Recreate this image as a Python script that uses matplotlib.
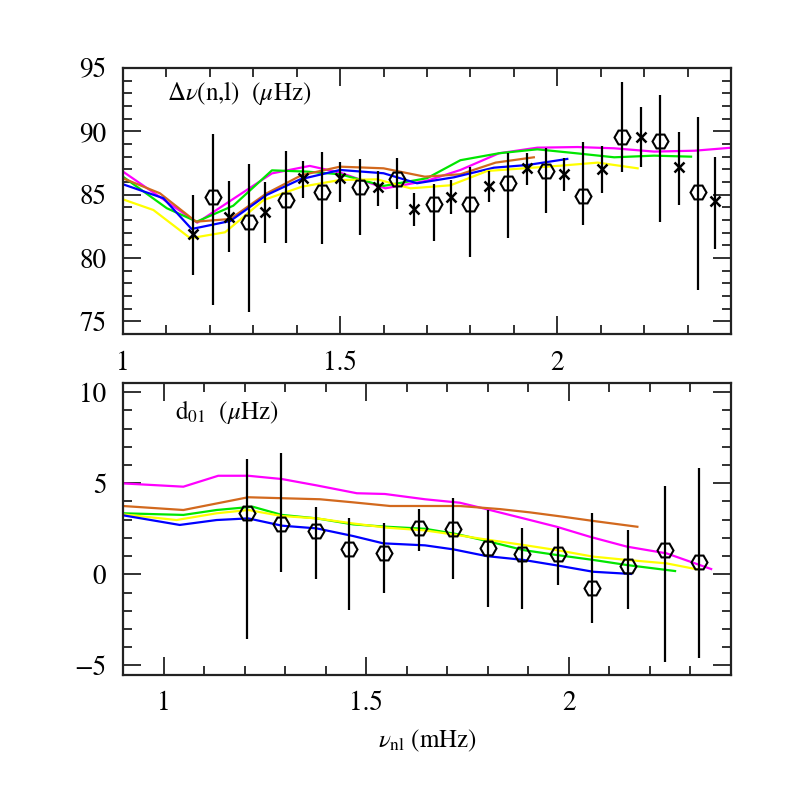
import matplotlib
matplotlib.use("Agg")
import matplotlib.pyplot as plt
from matplotlib.ticker import MultipleLocator

plt.rcParams['font.family'] = ['STIXGeneral', 'DejaVu Serif']
plt.rcParams['mathtext.fontset'] = 'stix'

# ---------------- top panel data: large separations ----------------
top_circ_x = [1.207, 1.291, 1.375, 1.458, 1.545, 1.631, 1.716, 1.800, 1.887, 1.974, 2.060, 2.148, 2.237, 2.323]
top_circ_y = [84.8, 82.87, 84.58, 85.19, 85.58, 86.2, 84.27, 84.24, 85.95, 86.87, 84.9, 89.58, 89.24, 85.19]
top_circ_lo = [8.5, 7.17, 3.37, 4.09, 3.78, 2.35, 2.9, 4.18, 4.35, 3.29, 2.3, 2.76, 6.37, 7.69]
top_circ_hi = [5.0, 4.53, 3.87, 3.21, 2.22, 1.7, 1.57, 2.92, 2.32, 1.83, 4.28, 4.34, 3.63, 5.91]

top_cross_x = [1.162, 1.245, 1.328, 1.414, 1.500, 1.587, 1.670, 1.756, 1.843, 1.930, 2.016, 2.103, 2.193, 2.280, 2.364]
top_cross_y = [81.87, 83.26, 83.66, 86.29, 86.29, 85.58, 83.85, 84.79, 85.71, 87.13, 86.61, 87.03, 89.58, 87.21, 84.53]
top_cross_lo = [3.21, 2.76, 2.5, 1.57, 1.89, 1.48, 1.35, 1.34, 1.31, 1.36, 1.29, 1.87, 2.38, 3.02, 3.83]
top_cross_hi = [3.11, 2.82, 2.37, 1.37, 1.31, 1.32, 1.25, 1.37, 1.16, 1.14, 1.26, 1.81, 2.37, 2.71, 3.42]

top_mag_x = [1.0, 1.171, 1.343, 1.430, 1.500, 1.604, 1.700, 1.777, 1.866, 1.954, 2.047, 2.131, 2.223, 2.316, 2.402]
top_mag_y = [86.82, 82.79, 86.68, 87.27, 86.74, 85.5, 86.1, 86.95, 88.27, 88.71, 88.76, 88.66, 88.4, 88.47, 88.71]

top_grn_x = [1.0, 1.101, 1.170, 1.254, 1.343, 1.423, 1.500, 1.600, 1.700, 1.777, 1.866, 1.954, 2.043, 2.131, 2.223, 2.308]
top_grn_y = [86.42, 83.93, 82.87, 84.13, 86.92, 86.82, 86.61, 85.69, 86.3, 87.72, 88.27, 88.58, 88.27, 87.95, 88.08, 88.0]

top_brn_x = [1.0, 1.085, 1.168, 1.247, 1.331, 1.412, 1.500, 1.600, 1.695, 1.777, 1.858, 1.946]
top_brn_y = [86.29, 85.11, 82.87, 83.08, 85.11, 86.55, 87.21, 87.08, 86.42, 86.61, 87.53, 87.95]

top_blu_x = [1.0, 1.093, 1.158, 1.247, 1.331, 1.408, 1.500, 1.600, 1.677, 1.762, 1.854, 1.931, 2.023]
top_blu_y = [85.82, 84.72, 82.29, 82.92, 84.98, 86.21, 86.95, 86.69, 85.9, 86.37, 87.13, 87.34, 87.82]

top_yel_x = [1.0, 1.070, 1.155, 1.235, 1.324, 1.412, 1.500, 1.585, 1.662, 1.754, 1.839, 1.923, 2.008, 2.093, 2.185]
top_yel_y = [84.63, 83.79, 81.56, 82.03, 84.58, 85.63, 86.16, 86.21, 85.5, 85.74, 86.87, 87.08, 87.29, 87.53, 87.08]

# ---------------- bottom panel data: d01 ----------------
bot_circ_x = [1.207, 1.290, 1.375, 1.458, 1.545, 1.631, 1.715, 1.800, 1.885, 1.972, 2.056, 2.147, 2.237, 2.322]
bot_circ_y = [3.38, 2.76, 2.39, 1.39, 1.15, 2.52, 2.49, 1.46, 1.10, 1.12, -0.77, 0.47, 1.33, 0.66]
bot_circ_lo = [6.95, 2.65, 2.66, 3.35, 2.19, 1.24, 2.76, 3.24, 3.0, 1.71, 1.92, 2.39, 6.13, 5.27]
bot_circ_hi = [2.95, 3.88, 1.32, 1.71, 1.68, 1.06, 1.71, 2.07, 1.42, 1.44, 4.15, 1.96, 3.53, 5.16]

bot_mag_x = [0.9, 1.049, 1.135, 1.209, 1.292, 1.378, 1.477, 1.546, 1.645, 1.731, 1.789, 1.888, 1.970, 2.052, 2.143, 2.241, 2.351]
bot_mag_y = [4.99, 4.81, 5.41, 5.41, 5.23, 4.88, 4.45, 4.41, 4.12, 3.93, 3.62, 3.07, 2.61, 2.06, 1.52, 1.15, 0.29]

bot_brn_x = [0.9, 1.049, 1.209, 1.304, 1.386, 1.468, 1.559, 1.645, 1.731, 1.830, 1.904, 1.986, 2.060, 2.169]
bot_brn_y = [3.75, 3.53, 4.23, 4.17, 4.12, 3.95, 3.75, 3.75, 3.75, 3.58, 3.40, 3.16, 2.93, 2.61]

bot_grn_x = [0.9, 1.049, 1.131, 1.220, 1.292, 1.378, 1.468, 1.551, 1.645, 1.723, 1.805, 1.888, 1.970, 2.060, 2.143, 2.262]
bot_grn_y = [3.35, 3.26, 3.53, 3.71, 3.26, 3.07, 2.74, 2.61, 2.50, 2.21, 1.79, 1.33, 1.06, 0.79, 0.51, 0.18]

bot_yel_x = [0.9, 1.032, 1.131, 1.209, 1.292, 1.378, 1.468, 1.551, 1.645, 1.723, 1.805, 1.888, 1.970, 2.060, 2.143, 2.241, 2.315]
bot_yel_y = [3.29, 2.98, 3.35, 3.53, 3.20, 3.07, 2.79, 2.56, 2.41, 2.16, 1.88, 1.61, 1.33, 0.97, 0.79, 0.60, 0.28]

bot_blu_x = [0.9, 1.040, 1.131, 1.209, 1.292, 1.378, 1.468, 1.542, 1.645, 1.715, 1.797, 1.888, 1.978, 2.060, 2.153]
bot_blu_y = [3.24, 2.71, 2.98, 3.07, 2.67, 2.52, 2.10, 1.70, 1.59, 1.37, 1.00, 0.79, 0.46, 0.14, 0.02]

MAG = '#ff00ff'
GRN = '#00e600'
BRN = '#d2691e'
BLU = '#0000ff'
YEL = '#ffff00'

fig = plt.figure(figsize=(7.97, 7.97), dpi=100)
ax1 = fig.add_axes([0.1543, 0.5809, 0.7629, 0.3338])
ax2 = fig.add_axes([0.1543, 0.1537, 0.7629, 0.3657])

lw = 1.6
for ax in (ax1, ax2):
    for s in ax.spines.values():
        s.set_linewidth(1.6)
        s.set_color('#222222')
    ax.tick_params(which='both', direction='in', top=True, right=True,
                   labelsize=19.5, width=1.3, color='#222222')
    ax.tick_params(which='major', length=13, pad=12)
    ax.tick_params(which='minor', length=6.5)
    ax.xaxis.set_major_locator(MultipleLocator(0.5))
    ax.xaxis.set_minor_locator(MultipleLocator(0.1))
    ax.yaxis.set_major_locator(MultipleLocator(5))
    ax.yaxis.set_minor_locator(MultipleLocator(1))
    ax.xaxis.set_major_formatter(plt.FuncFormatter(lambda v, p: ('%g' % v)))

# top panel
ax1.plot(top_mag_x, top_mag_y, color=MAG, lw=lw, zorder=2)
ax1.plot(top_grn_x, top_grn_y, color=GRN, lw=lw, zorder=2)
ax1.plot(top_brn_x, top_brn_y, color=BRN, lw=lw, zorder=2)
ax1.plot(top_blu_x, top_blu_y, color=BLU, lw=lw, zorder=2)
ax1.plot(top_yel_x, top_yel_y, color=YEL, lw=lw, zorder=2)
ax1.errorbar(top_circ_x, top_circ_y, yerr=[top_circ_lo, top_circ_hi], fmt='H', mfc='none', mec='black',
             ms=11.5, mew=1.5, ecolor='black', elinewidth=1.6, capsize=0, zorder=3)
ax1.errorbar(top_cross_x, top_cross_y, yerr=[top_cross_lo, top_cross_hi], fmt='x', mec='black',
             ms=7, mew=1.8, ecolor='black', elinewidth=1.6, capsize=0, zorder=3)
ax1.set_xlim(1.0, 2.4)
ax1.set_ylim(74, 95)
ax1.text(0.072, 0.905, r'$\Delta\nu$(n,l)  ($\mu$Hz)', transform=ax1.transAxes,
         fontsize=18, va='center', ha='left')

# bottom panel
ax2.plot(bot_mag_x, bot_mag_y, color=MAG, lw=lw, zorder=2)
ax2.plot(bot_brn_x, bot_brn_y, color=BRN, lw=lw, zorder=2)
ax2.plot(bot_grn_x, bot_grn_y, color=GRN, lw=lw, zorder=2)
ax2.plot(bot_yel_x, bot_yel_y, color=YEL, lw=lw, zorder=2)
ax2.plot(bot_blu_x, bot_blu_y, color=BLU, lw=lw, zorder=2)
ax2.errorbar(bot_circ_x, bot_circ_y, yerr=[bot_circ_lo, bot_circ_hi], fmt='H', mfc='none', mec='black',
             ms=11.5, mew=1.5, ecolor='black', elinewidth=1.6, capsize=0, zorder=3)
ax2.set_xlim(0.9, 2.4)
ax2.set_ylim(-5.5, 10.5)
ax2.text(0.086, 0.90, r'd$_{\mathregular{01}}$  ($\mu$Hz)', transform=ax2.transAxes,
         fontsize=18, va='center', ha='left')
ax2.set_xlabel(r'$\nu_{\mathregular{nl}}$ (mHz)', fontsize=18, labelpad=8)

fig.savefig('out.png', dpi=100)
